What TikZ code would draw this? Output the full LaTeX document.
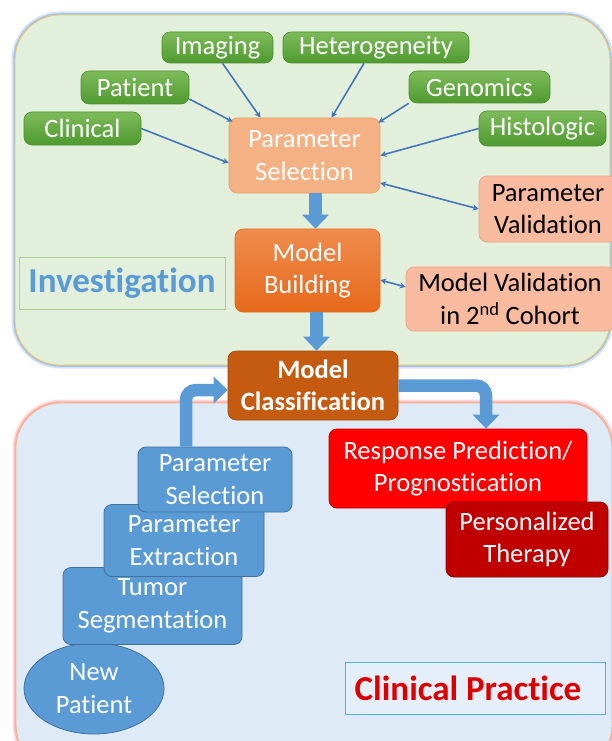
\documentclass[tikz,border=0pt]{standalone}
\usepackage{fontspec}
\setmainfont{Carlito}[Ligatures={NoCommon}]
\usetikzlibrary{arrows.meta,shapes.geometric}
\definecolor{panelG}{HTML}{E2EFDA}
\definecolor{panelB}{HTML}{DEEBF7}
\definecolor{glowB}{HTML}{8FB4EA}
\definecolor{lineY}{HTML}{F2C75C}
\definecolor{glowR}{HTML}{FF9C9C}
\definecolor{lineO}{HTML}{F4B183}
\definecolor{gTop}{HTML}{7DBB5A}
\definecolor{gBot}{HTML}{4F9A30}
\definecolor{gLine}{HTML}{4E8F30}
\definecolor{psFill}{HTML}{F4B183}
\definecolor{psLine}{HTML}{F0A06A}
\definecolor{valFill}{HTML}{F8BBA0}
\definecolor{valLine}{HTML}{F2A07C}
\definecolor{mbTop}{HTML}{F08C4E}
\definecolor{mbBot}{HTML}{E5691A}
\definecolor{mcFill}{HTML}{C55A11}
\definecolor{blueF}{HTML}{5B9BD5}
\definecolor{blueL}{HTML}{41719C}
\definecolor{arrowC}{HTML}{4477BA}
\definecolor{redF}{HTML}{FF0000}
\definecolor{redL}{HTML}{C00000}
\definecolor{dredF}{HTML}{C00000}
\definecolor{dredL}{HTML}{8B0000}
\definecolor{invLine}{HTML}{A9D18E}
\definecolor{cpLine}{HTML}{4DB3E6}
\definecolor{cpText}{HTML}{DC0000}
\definecolor{cpFill}{HTML}{E4EFF9}
\begin{document}
\begin{tikzpicture}[x=1pt,y=-1pt,
  sz/.style 2 args={minimum width=#1pt, minimum height=#2pt},
  box/.style={rounded corners=8pt, inner sep=0pt, align=center, text=white,
    font=\fontsize{26.5}{32.5}\selectfont},
  greenbox/.style={box, top color=gTop, bottom color=gBot, draw=gLine, line width=0.6pt},
  pselbox/.style={box, fill=psFill, draw=psLine, line width=0.6pt},
  valbox/.style={box, fill=valFill, draw=valLine, line width=0.6pt, text=black},
  mbbox/.style={box, top color=mbTop, bottom color=mbBot, draw=mbBot, line width=0.6pt},
  mcbox/.style={box, fill=mcFill, draw=mcFill!80!black, line width=0.6pt, font=\fontsize{26.5}{32.5}\selectfont\bfseries},
  bluebox/.style={box, fill=blueF, draw=blueL, line width=0.8pt},
  redbox/.style={box, fill=redF, draw=redL, line width=0.8pt},
  dredbox/.style={box, fill=dredF, draw=dredL, line width=0.8pt},
  thinarrow/.style={draw=arrowC, line width=1.6pt, -{Stealth[length=6pt,width=6pt]}},
  thinboth/.style={draw=arrowC, line width=1.6pt, {Stealth[length=6pt,width=6pt]}-{Stealth[length=6pt,width=6pt]}},
  bigarrow/.style={draw=blueF, line width=12.5pt, -{Triangle[width=26pt,length=14pt]}}
]
\useasboundingbox (0,0) rectangle (611,741);
\fill[white] (0,0) rectangle (611,741);
% top panel
\draw[glowB, line width=7pt, opacity=0.35, rounded corners=45pt] (15,15) rectangle (610,365);
\draw[glowB, line width=3.5pt, opacity=0.7, rounded corners=45pt] (15,15) rectangle (610,365);
\draw[fill=panelG, draw=lineY, line width=0.8pt, rounded corners=45pt] (15,15) rectangle (610,365);
% bottom panel
\draw[glowR, line width=7pt, opacity=0.35, rounded corners=45pt] (16,403) rectangle (612,770);
\draw[glowR, line width=3.5pt, opacity=0.7, rounded corners=45pt] (16,403) rectangle (612,770);
\draw[fill=panelB, draw=lineO, line width=0.8pt, rounded corners=45pt] (16,403) rectangle (612,770);

% green nodes
\node[greenbox, sz={111}{31}] (imaging) at (217.5,47.5) {Imaging};
\node[greenbox, sz={186}{31}] (hetero) at (376,47.5) {Heterogeneity};
\node[greenbox, sz={108}{33}] (patient) at (135,87.5) {Patient};
\node[greenbox, sz={141}{32}] (genomics) at (479.5,87) {Genomics};
\node[greenbox, sz={117}{33}] (clinical) at (82.5,128.5) {Clinical};
\node[greenbox, sz={127}{35}] (histologic) at (542.5,128.5) {Histologic};

\node[pselbox, sz={151}{75}] (psel) at (304.5,155.5) {Parameter\\Selection};
\node[valbox, sz={138}{66}] (pval) at (548,209) {Parameter\\Validation};
\node[mbbox, sz={145}{83}] (mbuild) at (307.5,270.5) {Model\\Building};
\node[valbox, sz={208}{64}] (mval) at (510,299) {Model Validation\\in 2\textsuperscript{nd} Cohort};
\node[draw=invLine, line width=0.8pt, sz={206}{52}, inner sep=0pt, text=blueF,
  font=\fontsize{35}{40}\selectfont\bfseries] (invest) at (122,283) {Investigation};

\node[mcbox, sz={170}{69}] (mclass) at (313,385.5) {Model\\Classification};

% blue stack
\node[bluebox, ellipse, sz={140}{91}] (newp) at (94,688.5) {New\\Patient};
\node[bluebox, sz={179}{77}] (tseg) at (152.5,606) {Tumor\\Segmentation};
\node[bluebox, sz={160}{72}] (bext) at (184,540.5) {Parameter\\Extraction};
\node[bluebox, sz={154}{65}] (bsel) at (215,479.5) {Parameter\\Selection};

\node[redbox, sz={258}{79}] (resp) at (458,468.5) {Response Prediction/\\Prognostication};
\node[dredbox, sz={162}{75}] (pers) at (527,539.5) {Personalized\\Therapy};

\node[draw=cpLine, fill=cpFill, line width=0.8pt, sz={260}{52}, inner sep=0pt, text=cpText,
  font=\fontsize{35}{40}\selectfont\bfseries] (cprac) at (475,688) {Clinical Practice\kern14pt};

% thin arrows
\draw[thinarrow] (clinical.east) -- ([yshift=-7.5pt]psel.west);
\draw[thinarrow] ([yshift=-11.5pt]patient.east) -- ([xshift=4pt,yshift=-4pt]psel.north west);
\draw[thinarrow] ([xshift=5pt]imaging.south) -- ([xshift=-44pt]psel.north);
\draw[thinarrow] ([xshift=-12pt]hetero.south) -- ([xshift=27pt]psel.north);
\draw[thinarrow] (genomics.south west) -- ([xshift=-2pt,yshift=-5pt]psel.north east);
\draw[thinarrow] (histologic.west) -- (psel.east);
\draw[thinboth] (pval.west) -- ([yshift=-27.5pt]psel.east);
\draw[thinboth] ([yshift=12pt]mval.west) -- ([yshift=-9.5pt]mbuild.east);

% big arrows
\coordinate (a1) at ([xshift=11pt]psel.south);
\draw[bigarrow] (a1) -- (a1 |- mbuild.north);
\coordinate (a2) at ([xshift=9pt]mbuild.south);
\draw[bigarrow] (a2) -- (a2 |- mclass.north);
\draw[bigarrow, rounded corners=10pt] ([xshift=-29pt]bsel.north) |- ([yshift=-4.5pt]mclass.west);
\draw[bigarrow, rounded corners=10pt] (mclass.east) -| ([xshift=28pt]resp.north);
\end{tikzpicture}
\end{document}
